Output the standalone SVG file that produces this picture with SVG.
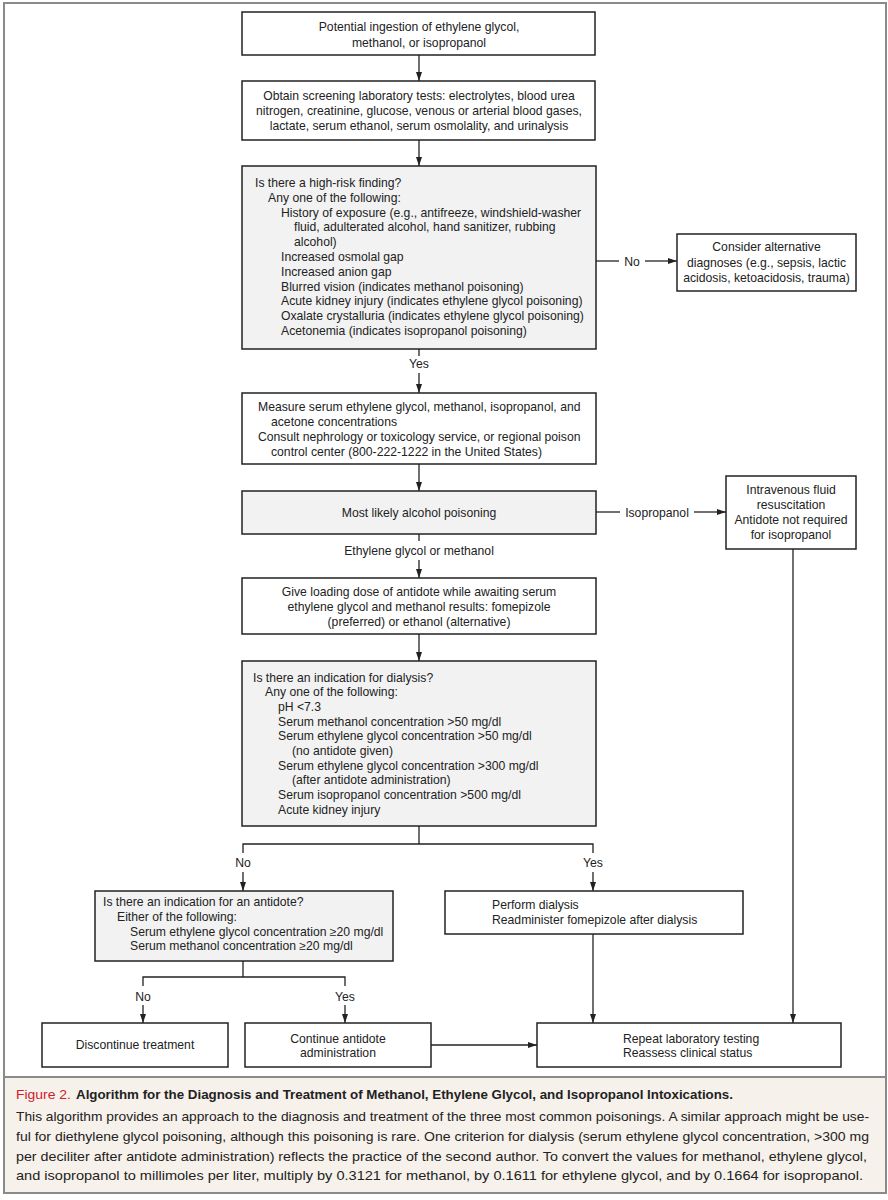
<svg xmlns="http://www.w3.org/2000/svg" width="888" height="1200" viewBox="0 0 888 1200">
<defs>
<marker id="ah" markerUnits="userSpaceOnUse" markerWidth="10" markerHeight="8" refX="9" refY="3" orient="auto">
<path d="M0,0 L9,3 L0,6 z" fill="#222"/>
</marker>
<style>
.b{fill:#fff;stroke:#222;stroke-width:1.5}
.g{fill:#f2f2f2;stroke:#222;stroke-width:1.5}
text{font-family:"Liberation Sans",Arial,sans-serif;font-size:12.2px;fill:#222}
.c{text-anchor:middle}
.ln{fill:none;stroke:#222;stroke-width:1.3}
.ar{fill:none;stroke:#222;stroke-width:1.3;marker-end:url(#ah)}
.cap{font-size:13.5px;fill:#222}
.capb{font-size:13.5px;font-weight:bold;fill:#222}
.red{font-size:13.5px;fill:#d0202e}
</style>
</defs>
<rect x="0" y="0" width="888" height="1200" fill="#fff"/>
<rect x="4" y="1077" width="882" height="116" fill="#f6f1ea"/>
<rect x="4" y="3" width="882" height="1190" fill="none" stroke="#8a8a8a" stroke-width="2"/>
<line x1="4" y1="1077" x2="886" y2="1077" stroke="#8a8a8a" stroke-width="2"/>

<g id="connectors">
<line class="ar" x1="419" y1="55" x2="419" y2="81"/>
<line class="ar" x1="419" y1="140" x2="419" y2="166"/>
<line class="ln" x1="596" y1="261" x2="619" y2="261"/>
<line class="ar" x1="645" y1="261" x2="677" y2="261"/>
<line class="ln" x1="419" y1="349" x2="419" y2="356"/>
<line class="ar" x1="419" y1="373" x2="419" y2="393"/>
<line class="ar" x1="419" y1="464" x2="419" y2="491"/>
<line class="ln" x1="596" y1="512" x2="620" y2="512"/>
<line class="ar" x1="694" y1="512" x2="726" y2="512"/>
<line class="ln" x1="419" y1="534" x2="419" y2="541"/>
<line class="ar" x1="419" y1="560" x2="419" y2="578"/>
<line class="ar" x1="419" y1="634" x2="419" y2="661"/>
<polyline class="ln" points="419,826 419,844"/>
<polyline class="ln" points="243,853 243,844 593,844 593,853"/>
<line class="ar" x1="243" y1="872" x2="243" y2="891"/>
<line class="ar" x1="593" y1="872" x2="593" y2="891"/>
<polyline class="ln" points="243,961 243,977"/>
<polyline class="ln" points="143,986 143,977 345,977 345,986"/>
<line class="ar" x1="143" y1="1005" x2="143" y2="1023"/>
<line class="ar" x1="345" y1="1005" x2="345" y2="1023"/>
<line class="ar" x1="593" y1="934" x2="593" y2="1023"/>
<line class="ar" x1="793" y1="549" x2="793" y2="1023"/>
<line class="ar" x1="431" y1="1045" x2="537" y2="1045"/>
<text class="c" x="632" y="265.5">No</text>
<text class="c" x="419" y="368">Yes</text>
<text class="c" x="657" y="516.5">Isopropanol</text>
<text class="c" x="419" y="554.5">Ethylene glycol or methanol</text>
<text class="c" x="243" y="867">No</text>
<text class="c" x="593" y="867">Yes</text>
<text class="c" x="143" y="1001">No</text>
<text class="c" x="345" y="1001">Yes</text>
</g>

<g id="n1">
<rect class="b" x="242" y="12" width="353" height="43"/>
<text class="c" x="419" y="31">Potential ingestion of ethylene glycol,</text>
<text class="c" x="419" y="46.5">methanol, or isopropanol</text>
</g>

<g id="n2">
<rect class="b" x="242" y="81" width="353" height="59"/>
<text class="c" x="419" y="100">Obtain screening laboratory tests: electrolytes, blood urea</text>
<text class="c" x="419" y="114.8">nitrogen, creatinine, glucose, venous or arterial blood gases,</text>
<text class="c" x="419" y="129.6">lactate, serum ethanol, serum osmolality, and urinalysis</text>
</g>

<g id="n3">
<rect class="g" x="242" y="166" width="354" height="183"/>
<text x="255" y="187">Is there a high-risk finding?</text>
<text x="268" y="201.8">Any one of the following:</text>
<text x="281" y="216.6">History of exposure (e.g., antifreeze, windshield-washer</text>
<text x="294" y="231.4">fluid, adulterated alcohol, hand sanitizer, rubbing</text>
<text x="294" y="246.2">alcohol)</text>
<text x="281" y="261">Increased osmolal gap</text>
<text x="281" y="275.8">Increased anion gap</text>
<text x="281" y="290.6">Blurred vision (indicates methanol poisoning)</text>
<text x="281" y="305.4">Acute kidney injury (indicates ethylene glycol poisoning)</text>
<text x="281" y="320.2">Oxalate crystalluria (indicates ethylene glycol poisoning)</text>
<text x="281" y="335">Acetonemia (indicates isopropanol poisoning)</text>
</g>

<g id="n_alt">
<rect class="b" x="677" y="234" width="179" height="57"/>
<text class="c" x="766.5" y="251">Consider alternative</text>
<text class="c" x="766.5" y="266.5">diagnoses (e.g., sepsis, lactic</text>
<text class="c" x="766.5" y="282">acidosis, ketoacidosis, trauma)</text>
</g>

<g id="n4">
<rect class="b" x="242" y="393" width="354" height="71"/>
<text x="258" y="410.5">Measure serum ethylene glycol, methanol, isopropanol, and</text>
<text x="271" y="425.5">acetone concentrations</text>
<text x="258" y="440.5">Consult nephrology or toxicology service, or regional poison</text>
<text x="271" y="455.5">control center (800-222-1222 in the United States)</text>
</g>

<g id="n5">
<rect class="g" x="242" y="491" width="354" height="43"/>
<text class="c" x="419" y="516.5">Most likely alcohol poisoning</text>
</g>

<g id="n_iv">
<rect class="b" x="726" y="476" width="130" height="73"/>
<text class="c" x="791" y="493.5">Intravenous fluid</text>
<text class="c" x="791" y="509">resuscitation</text>
<text class="c" x="791" y="524">Antidote not required</text>
<text class="c" x="791" y="539">for isopropanol</text>
</g>

<g id="n6">
<rect class="b" x="242" y="578" width="354" height="56"/>
<text class="c" x="419" y="595.5">Give loading dose of antidote while awaiting serum</text>
<text class="c" x="419" y="610.5">ethylene glycol and methanol results: fomepizole</text>
<text class="c" x="419" y="625.5">(preferred) or ethanol (alternative)</text>
</g>

<g id="n7">
<rect class="g" x="242" y="661" width="354" height="165"/>
<text x="253" y="681.5">Is there an indication for dialysis?</text>
<text x="265" y="696.2">Any one of the following:</text>
<text x="278" y="710.9">pH &lt;7.3</text>
<text x="278" y="725.6">Serum methanol concentration &gt;50 mg/dl</text>
<text x="278" y="740.3">Serum ethylene glycol concentration &gt;50 mg/dl</text>
<text x="292" y="755">(no antidote given)</text>
<text x="278" y="769.7">Serum ethylene glycol concentration &gt;300 mg/dl</text>
<text x="292" y="784.4">(after antidote administration)</text>
<text x="278" y="799.1">Serum isopropanol concentration &gt;500 mg/dl</text>
<text x="278" y="813.8">Acute kidney injury</text>
</g>

<g id="n8">
<rect class="g" x="95" y="891" width="298" height="70"/>
<text x="103" y="906">Is there an indication for an antidote?</text>
<text x="117" y="920.8">Either of the following:</text>
<text x="130" y="935.6">Serum ethylene glycol concentration ≥20 mg/dl</text>
<text x="130" y="950.4">Serum methanol concentration ≥20 mg/dl</text>
</g>

<g id="n9">
<rect class="b" x="445" y="891" width="298" height="43"/>
<text x="492" y="909">Perform dialysis</text>
<text x="492" y="924">Readminister fomepizole after dialysis</text>
</g>

<g id="n10">
<rect class="b" x="42" y="1023" width="186" height="44"/>
<text class="c" x="135" y="1049">Discontinue treatment</text>
</g>

<g id="n11">
<rect class="b" x="245" y="1023" width="186" height="44"/>
<text class="c" x="338" y="1042.5">Continue antidote</text>
<text class="c" x="338" y="1057">administration</text>
</g>

<g id="n12">
<rect class="b" x="537" y="1023" width="304" height="44"/>
<text x="623" y="1042.5">Repeat laboratory testing</text>
<text x="623" y="1057">Reassess clinical status</text>
</g>

<g id="caption">
<text class="red" x="16" y="1099" textLength="55" lengthAdjust="spacingAndGlyphs">Figure 2.</text>
<text class="capb" x="76" y="1099" textLength="657" lengthAdjust="spacingAndGlyphs">Algorithm for the Diagnosis and Treatment of Methanol, Ethylene Glycol, and Isopropanol Intoxications.</text>
<text class="cap" x="16" y="1121" textLength="853" lengthAdjust="spacingAndGlyphs">This algorithm provides an approach to the diagnosis and treatment of the three most common poisonings. A similar approach might be use-</text>
<text class="cap" x="16" y="1141" textLength="853" lengthAdjust="spacingAndGlyphs">ful for diethylene glycol poisoning, although this poisoning is rare. One criterion for dialysis (serum ethylene glycol concentration, &gt;300 mg</text>
<text class="cap" x="16" y="1161" textLength="851" lengthAdjust="spacingAndGlyphs">per deciliter after antidote administration) reflects the practice of the second author. To convert the values for methanol, ethylene glycol,</text>
<text class="cap" x="16" y="1180" textLength="847" lengthAdjust="spacingAndGlyphs">and isopropanol to millimoles per liter, multiply by 0.3121 for methanol, by 0.1611 for ethylene glycol, and by 0.1664 for isopropanol.</text>
</g>
</svg>
